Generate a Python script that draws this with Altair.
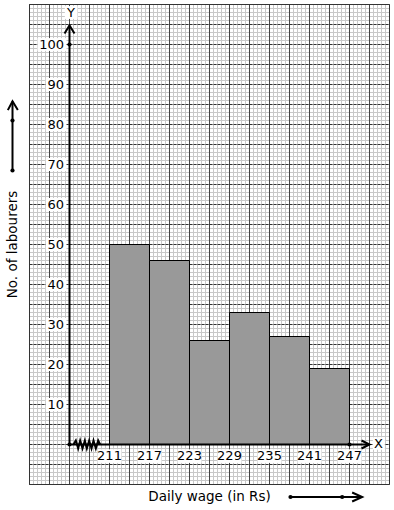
import altair as alt
import pandas as pd

# ---- data ----
bin_start = [211, 217, 223, 229, 235, 241]
bin_end = [217, 223, 229, 235, 241, 247]
labourers = [50, 46, 26, 33, 27, 19]
x_ticks = [211, 217, 223, 229, 235, 241, 247]
y_ticks = [10, 20, 30, 40, 50, 60, 70, 80, 90, 100]

# graph paper (data units)
major_x = [199 + 3 * k for k in range(19)]
major_y = [-10 + 5 * k for k in range(25)]
minor_x = [round(199 + 0.6 * k, 2) for k in range(91)]
minor_y = [-10 + k for k in range(121)]

zig_x = [205.6, 205.95, 206.3, 206.6, 206.95, 207.3, 207.6, 207.95, 208.3, 208.6, 208.95, 209.3, 209.6]
zig_y = [0, 1.0, -1.0, 1.0, -1.0, 1.0, -1.0, 1.0, -1.0, 1.0, -1.0, 1.0, 0]

FONT = "DejaVu Sans"
xs = alt.Scale(domain=[194.575, 253.675], nice=False, zero=False)
ys = alt.Scale(domain=[-16.375, 111.125], nice=False, zero=False)


def X(f):
    return alt.X(f, type="quantitative", scale=xs, axis=None)


def Y(f):
    return alt.Y(f, type="quantitative", scale=ys, axis=None)


# minor grid
mv = pd.DataFrame({"x": minor_x, "y1": -10, "y2": 110})
mh = pd.DataFrame({"y": minor_y, "x1": 199, "x2": 253})
minor_v = alt.Chart(mv).mark_rule(color="#c8c8c8", strokeWidth=1).encode(x=X("x"), y=Y("y1"), y2="y2")
minor_h = alt.Chart(mh).mark_rule(color="#c8c8c8", strokeWidth=1).encode(y=Y("y"), x=X("x1"), x2="x2")

# major grid
Mv = pd.DataFrame({"x": major_x, "y1": -10, "y2": 110})
Mh = pd.DataFrame({"y": major_y, "x1": 199, "x2": 253})
major_v = alt.Chart(Mv).mark_rule(color="#444444", strokeWidth=1).encode(x=X("x"), y=Y("y1"), y2="y2")
major_h = alt.Chart(Mh).mark_rule(color="#333333", strokeWidth=1, strokeDash=[3, 1]).encode(
    y=Y("y"), x=X("x1"), x2="x2")

border = alt.Chart(pd.DataFrame({"x1": [199], "x2": [253], "y1": [-10], "y2": [110]})).mark_rect(
    fill=None, stroke="#333333", strokeWidth=1).encode(x=X("x1"), x2="x2", y=Y("y1"), y2="y2")

# bars
bars_df = pd.DataFrame({"a": bin_start, "b": bin_end, "v": labourers, "z": 0})
bars = alt.Chart(bars_df).mark_rect(fill="#999999", stroke="#000000", strokeWidth=1).encode(
    x=X("a"), x2="b", y=Y("z"), y2="v")

# tick label backgrounds + labels
yl = pd.DataFrame({"v": y_ticks, "lab": [str(v) for v in y_ticks]})
yl["x1"] = [200.2 if v >= 100 else 201.45 for v in y_ticks]
yl["x2"] = 204.55
yl["y1"] = yl["v"] - 1.6
yl["y2"] = yl["v"] + 1.6
yl["tx"] = 204.175
ybg = alt.Chart(yl).mark_rect(fill="white").encode(x=X("x1"), x2="x2", y=Y("y1"), y2="y2")
ytxt = alt.Chart(yl).mark_text(align="right", baseline="middle", font=FONT, fontSize=13, color="#000").encode(
    x=X("tx"), y=Y("v"), text="lab:N")

xl = pd.DataFrame({"v": x_ticks, "lab": [str(v) for v in x_ticks]})
xl["x1"] = xl["v"] - 1.8
xl["x2"] = xl["v"] + 1.8
xl["y1"] = -4.6
xl["y2"] = -1.2
xl["ty"] = -2.875
xbg = alt.Chart(xl).mark_rect(fill="white").encode(x=X("x1"), x2="x2", y=Y("y1"), y2="y2")
xtxt = alt.Chart(xl).mark_text(align="center", baseline="middle", font=FONT, fontSize=13, color="#000").encode(
    x=X("v"), y=Y("ty"), text="lab:N")

# axis letters
letters = pd.DataFrame({"x": [205.225, 251.35], "y": [108, 0.25], "t": ["Y", "X"]})
lbg = pd.DataFrame({"x1": [204.3, 250.5], "x2": [206.2, 252.3], "y1": [106.4, -1.3], "y2": [109.6, 1.8]})
let_bg = alt.Chart(lbg).mark_rect(fill="white").encode(x=X("x1"), x2="x2", y=Y("y1"), y2="y2")
let_txt = alt.Chart(letters).mark_text(align="center", baseline="middle", font=FONT, fontSize=13, color="#000").encode(
    x=X("x"), y=Y("y"), text="t:N")


# axes lines with arrows
def path(xv, yv, width=2):
    d = pd.DataFrame({"x": xv, "y": yv, "o": list(range(len(xv)))})
    return alt.Chart(d).mark_line(color="#000", strokeWidth=width, strokeJoin="miter").encode(
        x=X("x"), y=Y("y"), order="o:Q")


y_axis = path([205, 205], [0, 104.75])
y_head = path([204.25, 205, 205.75], [102.75, 104.75, 102.75])
x_axis = path([205, 250], [0, 0])
x_head = path([248.8, 250, 248.8], [1, 0, -1])
zig = path(zig_x, zig_y, 2)

dots = pd.DataFrame({"x": [205, 205, 247, 196.45, 196.45, 238.15, 245.9],
                     "y": [0, 100, 0, 81, 68.5, -13.125, -13.125]})
dot_mark = alt.Chart(dots).mark_point(filled=True, color="#000", size=18, opacity=1).encode(x=X("x"), y=Y("y"))

# axis titles with arrows
titles = pd.DataFrame({"x": [196.45], "y": [50], "t": ["No. of labourers"]})
ytitle = alt.Chart(titles).mark_text(angle=270, align="center", baseline="middle", font=FONT, fontSize=13.5,
                                     color="#000").encode(x=X("x"), y=Y("y"), text="t:N")
xt = pd.DataFrame({"x": [226], "y": [-13.1], "t": ["Daily wage (in Rs)"]})
xtitle = alt.Chart(xt).mark_text(align="center", baseline="middle", font=FONT, fontSize=13.5,
                                 color="#000").encode(x=X("x"), y=Y("y"), text="t:N")

ya_line = path([196.45, 196.45], [68.5, 85.8])
ya_head = path([195.75, 196.45, 197.25], [83.6, 85.8, 83.6])
xa_line = path([238.15, 248.9], [-13.125, -13.125])
xa_head = path([247.4, 248.9, 247.4], [-12, -13.125, -14.25])

chart = alt.layer(
    minor_v, minor_h, major_v, major_h, border, bars,
    ybg, ytxt, xbg, xtxt, let_bg, let_txt,
    y_axis, y_head, x_axis, x_head, zig, dot_mark,
    ytitle, xtitle, ya_line, ya_head, xa_line, xa_head,
).properties(width=394, height=510, background="white", padding=0, autosize="none").configure_view(stroke=None)

chart.save("out.html", embed_options={"renderer": "svg", "actions": False})
